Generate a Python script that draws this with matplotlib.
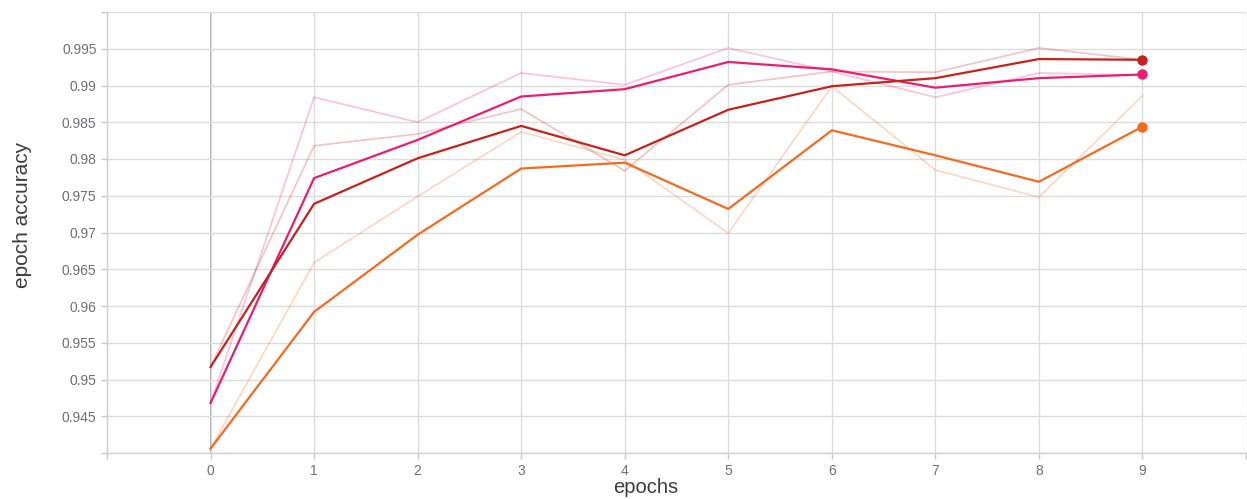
import matplotlib.pyplot as plt
from matplotlib.ticker import FixedLocator, FixedFormatter

plt.rcParams['font.family'] = ['Liberation Sans', 'DejaVu Sans']

epochs = [0, 1, 2, 3, 4, 5, 6, 7, 8, 9]

# smoothed runs
red_smooth = [0.9517, 0.9739, 0.9801, 0.9845, 0.9805, 0.9867, 0.9899, 0.9910, 0.9936, 0.9935]
pink_smooth = [0.9468, 0.9774, 0.9826, 0.9885, 0.9895, 0.9932, 0.9922, 0.9897, 0.9910, 0.9915]
orange_smooth = [0.9406, 0.9592, 0.9697, 0.9787, 0.9795, 0.9732, 0.9839, 0.9805, 0.9769, 0.9844]

# raw runs (faint)
red_raw = [0.9517, 0.9818, 0.9834, 0.9868, 0.9784, 0.9901, 0.9919, 0.9918, 0.9951, 0.9935]
pink_raw = [0.9468, 0.9884, 0.9850, 0.9917, 0.9901, 0.9951, 0.9919, 0.9884, 0.9917, 0.9914]
orange_raw = [0.9406, 0.9659, 0.9749, 0.9837, 0.9799, 0.9699, 0.9899, 0.9785, 0.9748, 0.9886]

red = '#c4221c'
pink = '#e91e72'
orange = '#f36a21'

fig = plt.figure(figsize=(12.47, 4.99), dpi=100)
ax = fig.add_axes([107/1247, 1 - 453/499, 1139/1247, 441/499])

# raw lines behind
for vals, c in [(orange_raw, orange), (red_raw, red), (pink_raw, pink)]:
    ax.plot(epochs, vals, color=c, alpha=0.25, lw=1.3, zorder=2)

# smoothed lines + end dots
for vals, c in [(orange_smooth, orange), (pink_smooth, pink), (red_smooth, red)]:
    ax.plot(epochs, vals, color=c, lw=1.6, zorder=3)
    ax.plot(epochs[-1], vals[-1], 'o', color=c, ms=6.5, zorder=4)

ax.set_xlim(-1, 10)
ax.set_ylim(0.94, 1.0)

xt = list(range(-1, 11))
ax.xaxis.set_major_locator(FixedLocator(xt))
ax.xaxis.set_major_formatter(FixedFormatter([''] + [str(i) for i in range(10)] + ['']))
yt = [0.94 + 0.005 * i for i in range(13)]
ylabels = [''] + ['0.945', '0.95', '0.955', '0.96', '0.965', '0.97', '0.975', '0.98',
                  '0.985', '0.99', '0.995'] + ['']
ax.yaxis.set_major_locator(FixedLocator(yt))
ax.yaxis.set_major_formatter(FixedFormatter(ylabels))

ax.grid(True, color='#dcdcdc', lw=1.0, zorder=0)
ax.axvline(0, color='#9c9c9c', lw=1.2, zorder=1)

for s in ['top', 'right']:
    ax.spines[s].set_visible(False)
for s in ['left', 'bottom']:
    ax.spines[s].set_color('#d0d0d0')
    ax.spines[s].set_linewidth(1.0)

ax.tick_params(axis='both', colors='#c8c8c8', length=4, width=1.0,
               labelcolor='#6e6e78', labelsize=10)
ax.tick_params(axis='x', pad=4)

ax.set_xlabel('epochs', fontsize=14.5, color='#3c3c3c')
ax.set_ylabel('epoch accuracy', fontsize=15, color='#3c3c3c')
ax.xaxis.set_label_coords(0.473, -0.057)
ax.yaxis.set_label_coords(-0.066, 0.54)

fig.savefig('out.png', dpi=100)
